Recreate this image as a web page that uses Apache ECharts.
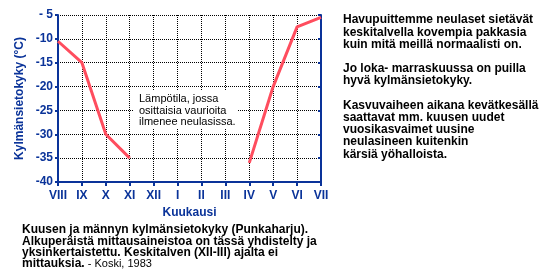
<!DOCTYPE html>
<html>
<head>
<meta charset="utf-8">
<script src="https://cdn.jsdelivr.net/npm/echarts@6/dist/echarts.min.js"></script>
<style>
html,body{margin:0;padding:0;background:#fff;}
#c{width:544px;height:280px;}
</style>
</head>
<body>
<div id="c"></div>
<script>
const months = ['VIII','IX','X','XI','XII','I','II','III','IV','V','VI','VII'];
const coldTolerance = [-10.5, -15, -30, -35, null, null, null, null, -36, -20, -7.5, -5.5];
const yMin = -40, yMax = -5, yStep = 5;
const xName = 'Kuukausi';
const yName = 'Kylmänsietokyky (°C)';
const noteLines = ['Lämpötila, jossa', 'osittaisia vaurioita', 'ilmenee neulasissa.'];
const sideLines = [
  'Havupuittemme neulaset sietävät',
  'keskitalvella kovempia pakkasia',
  'kuin mitä meillä normaalisti on.',
  '',
  'Jo loka- marraskuussa on puilla',
  'hyvä kylmänsietokyky.',
  '',
  'Kasvuvaiheen aikana kevätkesällä',
  'saattavat mm. kuusen uudet',
  'vuosikasvaimet uusine',
  'neulasineen kuitenkin',
  'kärsiä yöhalloista.'
];
const captionLines = [
  'Kuusen ja männyn kylmänsietokyky (Punkaharju).',
  'Alkuperäistä mittausaineistoa on tässä yhdistelty ja',
  'yksinkertaistettu. Keskitalven (XII-III) ajalta ei'
];
const captionLast = 'mittauksia.';
const captionSource = ' - Koski, 1983';

const BLUE = '#0a3399';
const FONT = '"Liberation Sans", Arial, sans-serif';

const chart = echarts.init(document.getElementById('c'), null, {renderer: 'canvas'});
chart.setOption({
  animation: false,
  backgroundColor: '#fff',
  grid: {left: 58, right: 223, top: 15, bottom: 98, containLabel: false},
  xAxis: {
    type: 'category',
    data: months,
    boundaryGap: false,
    name: xName,
    nameLocation: 'middle',
    nameGap: 24,
    nameTextStyle: {color: BLUE, fontWeight: 'bold', fontSize: 12, fontFamily: FONT},
    axisLine: {lineStyle: {color: BLUE, width: 2}},
    axisTick: {show: true, length: 4, alignWithLabel: true, lineStyle: {color: BLUE, width: 2}},
    axisLabel: {color: BLUE, fontWeight: 'bold', fontSize: 12, fontFamily: FONT, margin: 8},
    splitLine: {show: true, lineStyle: {color: '#000', width: 1, type: [1, 1]}}
  },
  yAxis: [{
    type: 'value',
    min: yMin, max: yMax, interval: yStep,
    name: yName,
    nameLocation: 'middle',
    nameGap: 32,
    nameTextStyle: {color: BLUE, fontWeight: 'bold', fontSize: 12, fontFamily: FONT},
    axisLine: {show: true, lineStyle: {color: BLUE, width: 2}},
    axisTick: {show: true, length: 3, lineStyle: {color: BLUE, width: 2}},
    axisLabel: {
      color: BLUE, fontWeight: 'bold', fontSize: 12, fontFamily: FONT, margin: 5,
      formatter: v => (v > -10 ? '- ' + Math.abs(v) : String(v))
    },
    splitLine: {show: true, lineStyle: {color: '#000', width: 1, type: [1, 1]}}
  }, {
    type: 'value',
    position: 'right',
    min: yMin, max: yMax, interval: yStep,
    axisLine: {show: true, lineStyle: {color: BLUE, width: 2}},
    axisTick: {show: true, inside: true, length: 3, lineStyle: {color: BLUE, width: 2}},
    axisLabel: {show: false},
    splitLine: {show: false}
  }],
  series: [{
    type: 'line',
    data: coldTolerance,
    connectNulls: false,
    showSymbol: false,
    symbol: 'none',
    lineStyle: {color: '#ff4d5e', width: 3},
    z: 3
  }],
  graphic: [
    {
      type: 'rect', z: 10,
      shape: {x: 133, y: 90, width: 104, height: 38},
      style: {fill: '#fff'}
    },
    {
      type: 'text', z: 11, left: 139, top: 93,
      style: {
        text: noteLines.join('\n'),
        font: '11px ' + FONT,
        fill: '#000',
        lineHeight: 11.7
      }
    },
    {
      type: 'text', z: 11, left: 343, top: 14,
      style: {
        text: sideLines.join('\n'),
        font: 'bold 12px ' + FONT,
        fill: '#000',
        lineHeight: 12.2
      }
    },
    {
      type: 'text', z: 11, left: 22, top: 224,
      style: {
        text: captionLines.join('\n') + '\n{b|' + captionLast + '}{r|' + captionSource + '}',
        font: 'bold 12px ' + FONT,
        fill: '#000',
        lineHeight: 11.3,
        rich: {
          b: {font: 'bold 12px ' + FONT, fill: '#000', lineHeight: 11.3},
          r: {font: '11px ' + FONT, fill: '#000', lineHeight: 11.3}
        }
      }
    }
  ]
});
</script>
</body>
</html>
